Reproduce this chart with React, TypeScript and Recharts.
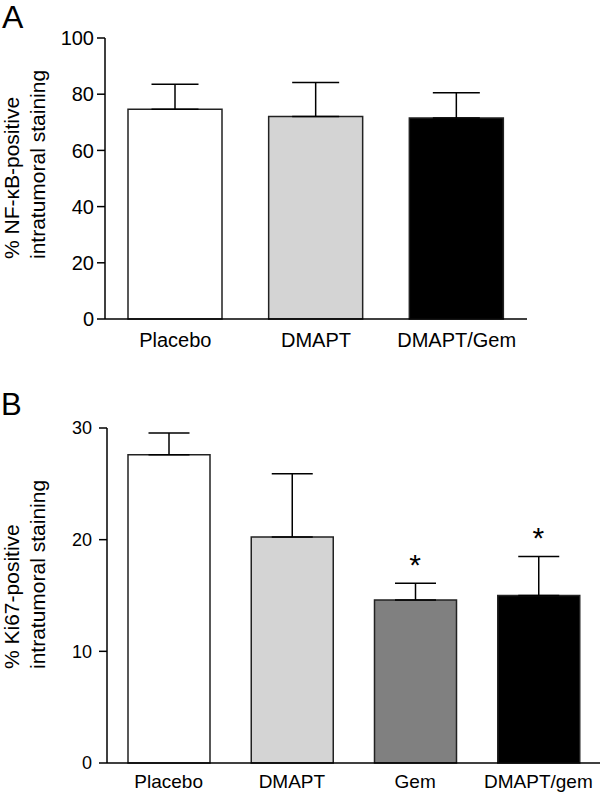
import React from 'react';
import { ComposedChart, Bar, XAxis, YAxis, ErrorBar, Cell, Scatter } from 'recharts';

const FONT = '"Liberation Sans", Arial, Helvetica, sans-serif';

// Panel A
const catsA = ['Placebo', 'DMAPT', 'DMAPT/Gem'];
const meanA = [74.6, 72.1, 71.5];
const sdA = [8.9, 12.1, 9.0];
const colorsA = ['#ffffff', '#d4d4d4', '#000000'];
const ticksA = [0, 20, 40, 60, 80, 100];

// Panel B
const catsB = ['Placebo', 'DMAPT', 'Gem', 'DMAPT/gem'];
const meanB = [27.6, 20.25, 14.6, 15.0];
const sdB = [1.95, 5.65, 1.5, 3.5];
const sigB = [false, false, true, true];
const colorsB = ['#ffffff', '#d4d4d4', '#808080', '#000000'];
const ticksB = [0, 10, 20, 30];

const dataA = catsA.map((name, i) => ({ name, mean: meanA[i], err: [0, sdA[i]] }));
const dataB = catsB.map((name, i) => ({
  name,
  mean: meanB[i],
  err: [0, sdB[i]],
  star: sigB[i] ? meanB[i] + sdB[i] : null,
}));

const YLabel = (props: any) => {
  const { x1, x2, y0, line1, line2 } = props;
  return (
    <g fontFamily={FONT} fontSize={21} fill="#000">
      <text x={x1} y={y0} transform={`rotate(-90, ${x1}, ${y0})`} textAnchor="start" fill="#000">
        {line1}
      </text>
      <text x={x2} y={y0} transform={`rotate(-90, ${x2}, ${y0})`} textAnchor="start" fill="#000">
        {line2}
      </text>
    </g>
  );
};

const StarShape = (props: any) => {
  const { cx, cy, payload } = props;
  if (payload == null || payload.star == null || cx == null || cy == null || isNaN(cy)) return <g />;
  return (
    <text x={cx} y={cy - 8} textAnchor="middle" fontSize={30} fontFamily={FONT} fill="#000">
      *
    </text>
  );
};

const axisStyle = { stroke: '#000', strokeWidth: 1.5 };

export default function App() {
  return (
    <div style={{ position: 'absolute', left: 0, top: 0, width: 600, height: 794, background: '#fff' }}>
      <div style={{ position: 'absolute', left: 0, top: 0 }}>
        <ComposedChart width={600} height={380} data={dataA} margin={{ top: 38, right: 73, bottom: 31, left: 0 }}>
          <XAxis
            dataKey="name"
            height={30}
            axisLine={axisStyle}
            tickLine={false}
            tickSize={0}
            tickMargin={14}
            tick={{ fill: '#000', fontSize: 20, fontFamily: FONT }}
          />
          <YAxis
            domain={[0, 100]}
            ticks={ticksA}
            width={105}
            tickSize={8}
            tickMargin={3}
            axisLine={axisStyle}
            tickLine={axisStyle}
            tick={{ fill: '#000', fontSize: 20, fontFamily: FONT }}
            label={<YLabel x1={19} x2={45} y0={259} line1="% NF-κB-positive" line2="intratumoral staining" />}
          />
          <Bar dataKey="mean" barSize={94} stroke="#222" strokeWidth={1.5} isAnimationActive={false}>
            {dataA.map((d, i) => (
              <Cell key={d.name} fill={colorsA[i]} />
            ))}
            <ErrorBar dataKey="err" width={23.5} stroke="#000" strokeWidth={1.5} direction="y" />
          </Bar>
        </ComposedChart>
      </div>
      <div style={{ position: 'absolute', left: 0, top: 380 }}>
        <ComposedChart width={600} height={414} data={dataB} margin={{ top: 48, right: 0, bottom: 0, left: 0 }}>
          <XAxis
            dataKey="name"
            height={31}
            axisLine={axisStyle}
            tickLine={false}
            tickSize={0}
            tickMargin={12}
            tick={{ fill: '#000', fontSize: 19, fontFamily: FONT }}
          />
          <YAxis
            domain={[0, 30]}
            ticks={ticksB}
            width={107}
            tickSize={8}
            tickMargin={7}
            axisLine={axisStyle}
            tickLine={axisStyle}
            tick={{ fill: '#000', fontSize: 18, fontFamily: FONT }}
            label={<YLabel x1={19} x2={45} y0={289} line1="% Ki67-positive" line2="intratumoral staining" />}
          />
          <Bar dataKey="mean" barSize={82} stroke="#222" strokeWidth={1.5} isAnimationActive={false}>
            {dataB.map((d, i) => (
              <Cell key={d.name} fill={colorsB[i]} />
            ))}
            <ErrorBar dataKey="err" width={20.5} stroke="#000" strokeWidth={1.5} direction="y" />
          </Bar>
          <Scatter dataKey="star" shape={<StarShape />} isAnimationActive={false} legendType="none" />
        </ComposedChart>
      </div>
      <svg width={600} height={794} style={{ position: 'absolute', left: 0, top: 0, pointerEvents: 'none' }}>
        <text x={2} y={28} fontSize={32} fontFamily={FONT} fill="#000">A</text>
        <text x={1} y={415} fontSize={31} fontFamily={FONT} fill="#000">B</text>
      </svg>
    </div>
  );
}
